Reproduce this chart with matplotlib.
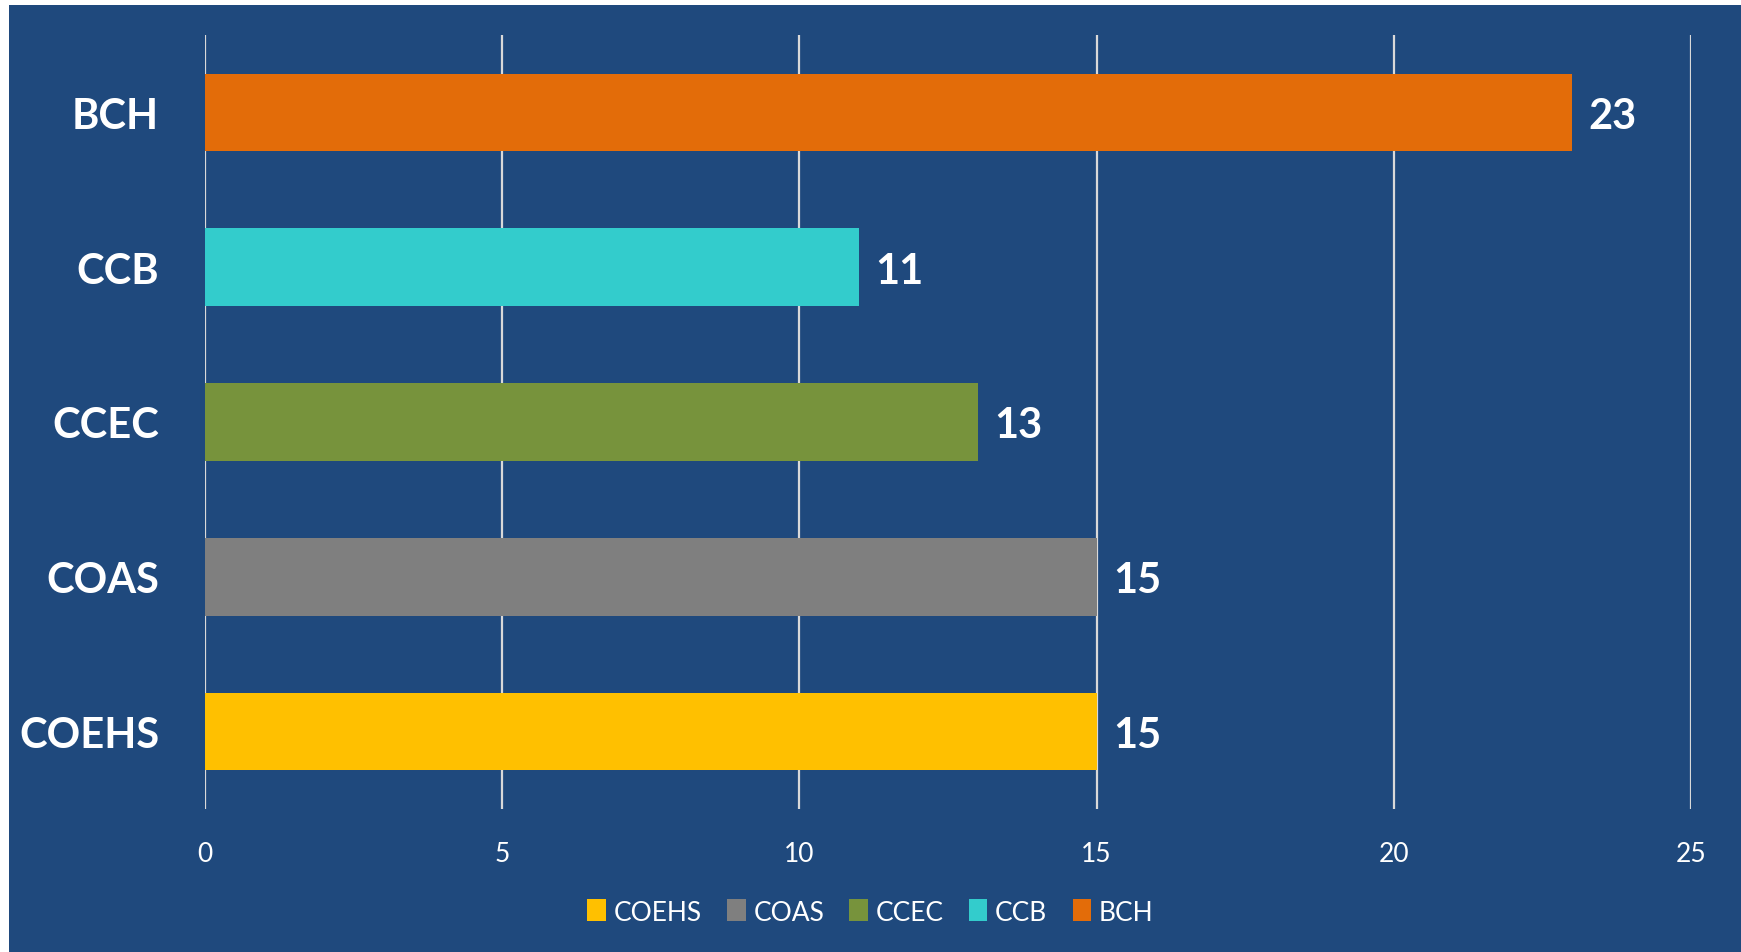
import matplotlib
matplotlib.use("Agg")
import matplotlib.pyplot as plt
from matplotlib.patches import Rectangle, Patch

categories = ["COEHS", "COAS", "CCEC", "CCB", "BCH"]
values = [15, 15, 13, 11, 23]
colors = ["#FFC000", "#7F7F7F", "#77933C", "#33CCCC", "#E36C09"]
xticks = [0, 5, 10, 15, 20, 25]

W, H = 1741, 953
fig = plt.figure(figsize=(W / 100, H / 100), dpi=100)
fig.patch.set_facecolor("white")
bg = "#1F497D"
fig.patches.append(Rectangle((9 / W, 0), 1 - 9 / W, 1 - 6 / H, transform=fig.transFigure,
                             facecolor=bg, edgecolor="none", zorder=-10))

ax = fig.add_axes([205 / W, 1 - 810 / H, (1691 - 205) / W, (810 - 36) / H])
ax.set_facecolor("none")
font = "Lato"

ypos = list(range(len(categories)))
ax.barh(ypos, values, height=0.5, color=colors, zorder=3)
ax.set_xlim(0, 25)
ax.set_ylim(-0.5, 4.5)
ax.set_xticks(xticks)
ax.set_xticklabels([str(t) for t in xticks], fontsize=19, color="white", family=font)
ax.set_yticks(ypos)
ax.set_yticklabels(categories, fontsize=30, color="white", fontweight="bold", family=font)
ax.tick_params(axis="x", length=0, pad=23)
ax.tick_params(axis="y", length=0, pad=33)
for s in ax.spines.values():
    s.set_visible(False)
ax.grid(axis="x", color="#D9D9D9", linewidth=1.6, zorder=1)
ax.grid(axis="y", visible=False)

for y, v in zip(ypos, values):
    ax.annotate(str(v), (v, y), xytext=(12, 0), textcoords="offset points",
                va="center_baseline", ha="left", fontsize=30, fontweight="bold",
                color="white", family=font)

handles = [Patch(facecolor=c, edgecolor="none", label=l) for c, l in zip(colors, categories)]
leg = fig.legend(handles=handles, loc="center", bbox_to_anchor=(0.5, 1 - 913 / H),
                 ncol=5, frameon=False, handlelength=0.7, handleheight=0.9,
                 handletextpad=0.3, columnspacing=0.95, prop={"family": font, "size": 19})
for t in leg.get_texts():
    t.set_color("white")

fig.savefig("out.png", dpi=100, facecolor=fig.get_facecolor())
